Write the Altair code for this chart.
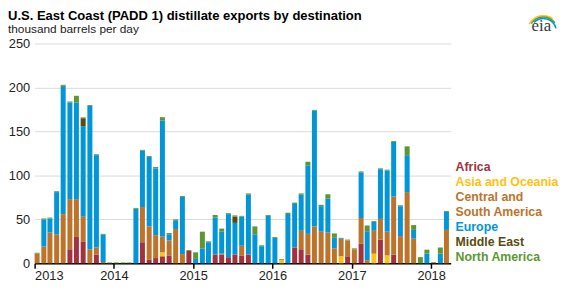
import altair as alt
import pandas as pd

months = pd.date_range("2013-01-01", "2018-03-01", freq="MS")

categories = ["Africa", "Asia and Oceania", "Central and South America",
              "Europe", "Middle East", "North America"]
colors = ["#a3323f", "#ffc20e", "#bd732a", "#0096d7", "#5c4a0b", "#5d9732"]

africa = [0, 0, 0, 0, 0, 16, 30, 25, 0, 10, 0, 0,
          0, 0, 0, 0, 24, 4, 6, 8, 9, 0, 0, 14,
          0, 0, 0, 10, 10, 7, 10, 9, 10, 0, 0, 0,
          0, 0, 0, 17.5, 16, 10, 0, 0, 0, 0, 0, 8,
          0, 22.5, 0, 0, 27, 0, 10, 0, 0, 0, 0, 0,
          0, 0, 0]
asia = [0, 0, 0, 0, 0, 0, 0, 0, 0, 0, 0, 0,
        0, 0, 0, 0, 0, 0, 0, 4.5, 0, 0, 0, 0,
        0, 0, 0, 0, 0, 0, 0, 0, 0, 0, 0, 0,
        0, 3.7, 0, 0, 0, 0, 0, 0, 0, 0, 8, 0,
        0, 0, 0, 11, 0, 9, 0, 0, 0, 0, 0, 0,
        0, 0, 0]
central_south = [11, 19, 35, 33, 56, 57, 43, 28, 16, 8, 1.5, 0,
                 0, 0, 0, 0, 40, 38, 26, 18, 17, 39, 10.5, 0,
                 0, 0, 0, 0, 1, 0, 0, 11, 0, 0, 0, 0,
                 0, 0, 0, 1, 21, 23.5, 42, 36, 35, 17, 20, 18,
                 16, 29, 3.5, 26, 23.5, 27, 66, 31, 81, 28, 0, 0,
                 0, 0, 38]
europe = [0, 31, 16, 48, 145, 110, 110, 103, 163, 105, 31, 0,
          0, 0, 0, 62, 64, 79, 76, 132, 7, 10, 65, 0,
          5, 17, 24, 42, 25, 49, 36, 33, 68, 33, 19.5, 54,
          29, 0, 56, 49, 41, 78, 131.5, 29, 38.5, 12, 1, 0,
          0, 52, 33, 10, 56.5, 69.5, 62, 34, 42, 10, 0, 11,
          0, 11, 20.5]
middle_east = [0, 0, 0, 0, 1, 0, 0, 9, 0, 0, 0, 0,
               0, 0, 0, 0, 0, 0, 0, 0, 0, 0, 0, 0,
               0, 0, 0, 0, 0, 0, 7, 0, 0, 0, 0, 0,
               0, 0, 0, 0, 0, 0, 0, 0, 0, 0, 0, 0,
               0, 0, 0, 0, 0, 0, 0, 0, 0, 0, 0, 0,
               1, 0, 0]
north_america = [1, 1, 1, 1, 1, 1, 7.5, 1, 1, 1, 1, 1,
                 1, 1, 1, 1, 1, 1, 1.5, 3.7, 1.5, 1, 1, 1,
                 7.5, 19, 1, 3, 3.5, 1, 1.5, 1, 1.5, 9, 1, 1,
                 1, 1, 1.5, 1.5, 1.5, 4, 1, 1.5, 5, 5, 0, 1,
                 1, 1, 6.5, 1, 1, 1, 1, 1, 10, 5.5, 7, 4.5,
                 0, 7, 1]

series = [africa, asia, central_south, europe, middle_east, north_america]

legend_lines = ["Africa", "Asia and Oceania", "Central and", "South America",
                "Europe", "Middle East", "North America"]
legend_colors = [colors[0], colors[1], colors[2], colors[2],
                 colors[3], colors[4], colors[5]]

year_ticks = [2013, 2014, 2015, 2016, 2017, 2018]

title_text = "U.S. East Coast (PADD 1) distillate exports by destination"
subtitle_text = "thousand barrels per day"

rows = []
for ci, (cat, vals) in enumerate(zip(categories, series)):
    for m, v in zip(months, vals):
        rows.append({
            "start": m.strftime("%Y-%m-%dT00:00:00"),
            "end": (m + pd.Timedelta(days=23)).strftime("%Y-%m-%dT00:00:00"),
            "destination": cat,
            "order": ci,
            "value": v,
        })
df = pd.DataFrame(rows)

W, H = 422, 223
FONT = "Liberation Sans"

bars = alt.Chart(df).transform_stack(
    stack="value", groupby=["start"], as_=["y0", "y1"],
    sort=[alt.SortField("order", order="ascending")]
).mark_bar().encode(
    x=alt.X("start:T",
            scale=alt.Scale(domain=["2013-01-01T00:00:00", "2018-04-01T00:00:00"]),
            axis=alt.Axis(values=[alt.DateTime(year=y, month=1, date=1) for y in year_ticks],
                          format="%Y", title=None, grid=False,
                          domainColor="#000000", domainWidth=1.5,
                          tickColor="#000000", tickSize=5, tickWidth=1.5,
                          labelFontSize=13, labelColor="#222222", labelPadding=1,
                          labelFont=FONT)),
    x2="end:T",
    y=alt.Y("y1:Q",
            scale=alt.Scale(domain=[0, 250]),
            axis=alt.Axis(values=[0, 50, 100, 150, 200, 250], title=None,
                          domain=False, ticks=False, gridColor="#d9d9d9",
                          labelFontSize=13, labelColor="#222222", labelPadding=5,
                          labelFont=FONT)),
    y2="y0:Q",
    color=alt.Color("destination:N",
                    scale=alt.Scale(domain=categories, range=colors),
                    legend=None),
)

leg_df = pd.DataFrame({"line": legend_lines, "col": legend_lines})
legend = alt.Chart(leg_df).mark_text(
    align="left", baseline="middle", fontSize=12.5, fontWeight="bold", font=FONT
).encode(
    x=alt.value(W + 5),
    y=alt.Y("line:N", sort=legend_lines, axis=None,
            scale=alt.Scale(type="point", range=[125, 217], padding=0)),
    text="line:N",
    color=alt.Color("col:N", scale=alt.Scale(domain=legend_lines, range=legend_colors),
                    legend=None),
)

ttl_df = pd.DataFrame({"t": [title_text]})
title = alt.Chart(ttl_df).mark_text(
    align="left", baseline="top", fontSize=13.2, fontWeight="bold", font=FONT,
    color="#000000"
).encode(x=alt.value(-27), y=alt.value(-34), text="t:N")

sub_df = pd.DataFrame({"t": [subtitle_text]})
subtitle = alt.Chart(sub_df).mark_text(
    align="left", baseline="top", fontSize=12, font=FONT, color="#222222"
).encode(x=alt.value(-27), y=alt.value(-20), text="t:N")

logo_df = pd.DataFrame({"t": ["eia"]})
logo = alt.Chart(logo_df).mark_text(
    align="center", baseline="alphabetic", fontSize=17, font="Liberation Serif",
    color="#3a3a3a"
).encode(x=alt.value(514), y=alt.value(-13), text="t:N")

arc_df = pd.DataFrame({"band": ["a"]})
arcs = alt.layer(
    alt.Chart(arc_df).mark_arc(color="#ffc20e", radius=17, radius2=15.5,
                               theta=5.2, theta2=6.9).encode(x=alt.value(516), y=alt.value(-12)),
    alt.Chart(arc_df).mark_arc(color="#5d9732", radius=15.5, radius2=14,
                               theta=5.3, theta2=7.2).encode(x=alt.value(516), y=alt.value(-12)),
    alt.Chart(arc_df).mark_arc(color="#0096d7", radius=14, radius2=12.5,
                               theta=5.5, theta2=7.6).encode(x=alt.value(516), y=alt.value(-12)),
)

chart = alt.layer(bars, legend, arcs, logo, title, subtitle).resolve_scale(
    y="independent", color="independent"
).properties(
    width=W, height=H,
    autosize=alt.AutoSizeParams(type="none"),
    padding={"left": 27, "top": 34, "right": 118, "bottom": 20},
).configure_view(stroke=None)

chart.save("out.html", embed_options={"renderer": "svg", "actions": False})
